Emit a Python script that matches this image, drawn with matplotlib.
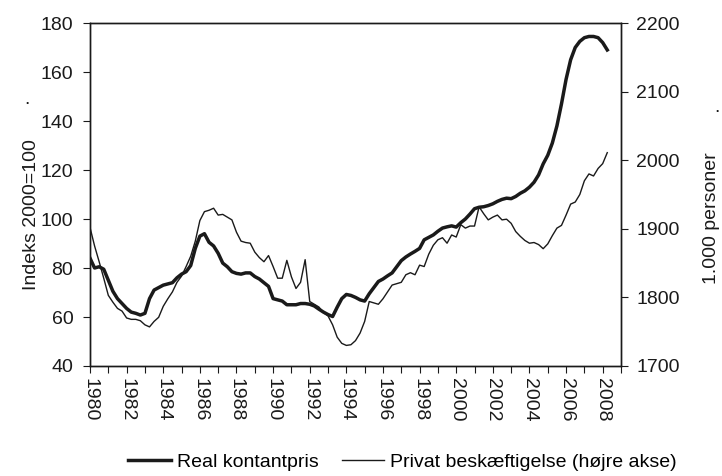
import numpy as np
import matplotlib
matplotlib.use("Agg")
import matplotlib.pyplot as plt

plt.rcParams['font.family'] = ['Liberation Sans', 'DejaVu Sans']

# quarterly data, 1980Q1 - 2008Q2
real_price = [
    84, 80, 80.5, 79.5,         # 1980
    75, 70.5, 67.5, 65.5,       # 1981
    63.5, 62, 61.5, 60.8,       # 1982
    61.5, 67.5, 71, 72,         # 1983
    73, 73.5, 74, 76,           # 1984
    77.5, 78.5, 81, 88,         # 1985
    93, 94, 90.5, 89,           # 1986
    86, 82, 80.5, 78.5,         # 1987
    77.8, 77.5, 78, 78,         # 1988
    76.5, 75.5, 74, 72.5,       # 1989
    67.5, 67, 66.5, 65,         # 1990
    65, 65, 65.5, 65.5,         # 1991
    65.2, 64.5, 63.2, 62,       # 1992
    61, 60.2, 64, 67.5,         # 1993
    69.2, 68.8, 68, 67,         # 1994
    66.5, 69.5, 72, 74.5,       # 1995
    75.5, 76.8, 78, 80.5,       # 1996
    83, 84.5, 85.7, 86.8,       # 1997
    88, 91.5, 92.5, 93.5,       # 1998
    95, 96.3, 96.8, 97.2,       # 1999
    96.7, 98.5, 100, 102,       # 2000
    104.2, 104.8, 105, 105.5,   # 2001
    106.2, 107.2, 108, 108.5,   # 2002
    108.3, 109.2, 110.5, 111.5, # 2003
    113, 115, 118, 122.5,       # 2004
    126, 131, 138, 147,         # 2005
    157, 165, 170, 172.5,       # 2006
    174, 174.5, 174.5, 174,     # 2007
    172, 169,                   # 2008
]

private_emp = [
    1902, 1875, 1852, 1828,     # 1980
    1803, 1793, 1784, 1780,     # 1981
    1770, 1768, 1768, 1766,     # 1982
    1760, 1757, 1765, 1771,     # 1983
    1787, 1798, 1808, 1822,     # 1984
    1831, 1845, 1860, 1882,     # 1985
    1912, 1925, 1927, 1930,     # 1986
    1920, 1921, 1917, 1913,     # 1987
    1895, 1882, 1880, 1879,     # 1988
    1866, 1858, 1852, 1861,     # 1989
    1845, 1828, 1828, 1854,     # 1990
    1830, 1813, 1822, 1855,     # 1991
    1794, 1790, 1786, 1778,     # 1992
    1773, 1760, 1742, 1733,     # 1993
    1730, 1731, 1737, 1748,     # 1994
    1765, 1794, 1792, 1790,     # 1995
    1798, 1808, 1818, 1820,     # 1996
    1822, 1833, 1836, 1833,     # 1997
    1847, 1845, 1863, 1876,     # 1998
    1884, 1887, 1879, 1891,     # 1999
    1888, 1906, 1901, 1904,     # 2000
    1904, 1932, 1922, 1913,     # 2001
    1917, 1920, 1913, 1914,     # 2002
    1908, 1896, 1889, 1883,     # 2003
    1879, 1880, 1877, 1871,     # 2004
    1878, 1890, 1901, 1905,     # 2005
    1920, 1936, 1939, 1950,     # 2006
    1970, 1980, 1977, 1988,     # 2007
    1995, 2011,                 # 2008
]

start_year = 1980
years = list(range(1980, 2010))
year_labels = [str(y) if (y % 2 == 0 and y < 2009) else '' for y in years]

# x position of each quarter
t = start_year + np.arange(len(real_price)) / 4.0

col = '#1a1a1a'
fs = 14

fig = plt.figure(figsize=(7.22, 4.76), dpi=100)
ax = fig.add_axes([90 / 722, 1 - 366 / 476, 531 / 722, 343 / 476])
ax2 = ax.twinx()

l1, = ax.plot(t, real_price, color=col, lw=2.5, solid_joinstyle='round')
l2, = ax2.plot(t, private_emp, color=col, lw=1.0)

ax.set_xlim(1980, 2009)
ax.set_ylim(40, 180)
ax.set_yticks(range(40, 181, 20))
ax2.set_ylim(1700, 2200)
ax2.set_yticks(range(1700, 2201, 100))

ax.set_xticks(years)
ax.set_xticklabels(year_labels, rotation=-90, fontsize=fs, color=col)
ax.tick_params(axis='x', direction='out', length=5, width=0.8, pad=4, colors=col)
ax.tick_params(axis='y', direction='out', length=5, width=0.8, pad=7, labelsize=fs, colors=col)
ax2.tick_params(axis='y', direction='out', length=5, width=0.8, pad=6, labelsize=fs, colors=col)

for a in (ax, ax2):
    for s in a.spines.values():
        s.set_color(col)
        s.set_linewidth(1.0)

fig.text(32 / 722, 1 - 215 / 476, 'Indeks 2000=100', rotation=90,
         ha='center', va='center', fontsize=fs, color=col)
fig.text(27 / 722, 1 - 100 / 476, '.', ha='center', va='center', fontsize=fs, color=col)
fig.text(711 / 722, 1 - 218 / 476, '1.000 personer', rotation=90,
         ha='center', va='center', fontsize=fs, color=col)
fig.text(717 / 722, 1 - 107 / 476, '.', ha='center', va='center', fontsize=fs, color=col)

fig.legend([l1, l2], ['Real kontantpris', 'Privat beskæftigelse (højre akse)'],
           loc='center left', bbox_to_anchor=(128 / 722, 1 - 462 / 476), ncol=2,
           frameon=False, fontsize=fs, handlelength=2.2, handletextpad=0.3,
           columnspacing=1.2, borderaxespad=0, borderpad=0)

fig.savefig('out.png', dpi=100)
